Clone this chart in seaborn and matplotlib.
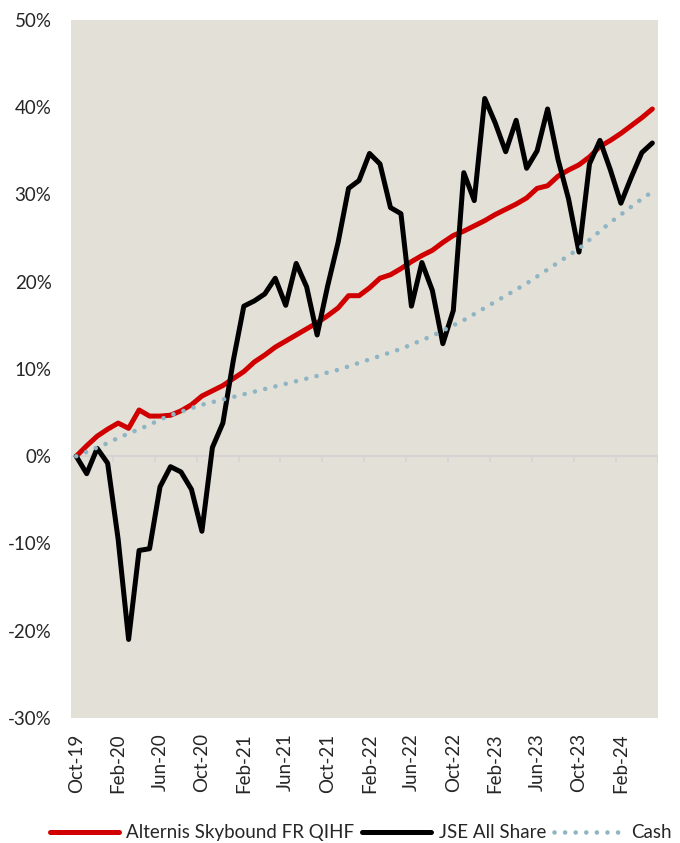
import numpy as np
import pandas as pd
import matplotlib
matplotlib.use('Agg')
import matplotlib.pyplot as plt
import seaborn as sns

# monthly cumulative returns (%), Oct-19 .. May-24
months = pd.date_range('2019-10-01', periods=56, freq='MS').strftime('%b-%y').tolist()

alternis = [0.0, 1.2, 2.3, 3.1, 3.8, 3.2, 5.3, 4.6, 4.6, 4.7,
            5.2, 5.9, 6.9, 7.5, 8.1, 8.9, 9.7, 10.8, 11.6, 12.5,
            13.2, 13.9, 14.6, 15.3, 16.1, 17.0, 18.4, 18.4, 19.3, 20.4,
            20.8, 21.5, 22.3, 23.0, 23.6, 24.5, 25.3, 25.8, 26.4, 27.0,
            27.7, 28.3, 28.9, 29.6, 30.7, 31.0, 32.1, 32.8, 33.4, 34.3,
            35.5, 36.2, 37.0, 37.9, 38.8, 39.8]

jse = [0.0, -2.0, 0.9, -0.8, -9.5, -21.0, -10.8, -10.6, -3.5, -1.2,
       -1.8, -3.8, -8.6, 1.0, 3.8, 11.0, 17.2, 17.8, 18.6, 20.4,
       17.3, 22.1, 19.4, 13.9, 19.5, 24.5, 30.7, 31.6, 34.7, 33.5,
       28.5, 27.8, 17.2, 22.2, 19.0, 12.9, 16.7, 32.5, 29.3, 41.0,
       38.2, 34.9, 38.5, 33.0, 35.0, 39.8, 34.0, 29.5, 23.4, 33.5,
       36.2, 32.8, 29.0, 32.0, 34.8, 35.9]

cash = [0.0, 0.5, 1.0, 1.5, 2.1, 2.6, 3.1, 3.6, 4.2, 4.7,
        5.1, 5.5, 5.9, 6.2, 6.5, 6.8, 7.1, 7.4, 7.7, 8.0,
        8.3, 8.6, 8.9, 9.2, 9.6, 9.9, 10.3, 10.7, 11.1, 11.5,
        11.9, 12.3, 12.8, 13.3, 13.8, 14.4, 15.0, 15.6, 16.3, 17.0,
        17.7, 18.4, 19.1, 19.8, 20.6, 21.4, 22.2, 23.0, 23.8, 24.8,
        25.8, 26.8, 27.7, 28.6, 29.5, 30.3]

yticks = [-30, -20, -10, 0, 10, 20, 30, 40, 50]

sns.set_style('white')
plt.rcParams['font.family'] = ['Lato', 'DejaVu Sans']

fig = plt.figure(figsize=(6.8, 8.43), dpi=100)
ax = fig.add_axes([0.1044, 0.1483, 0.8626, 0.828])
ax.set_facecolor('#E3E0D8')

idx = np.arange(len(months))

# zero axis line with small category tick marks
ax.axhline(0, color='#D4D4D4', lw=1.5, zorder=1)
ax.vlines(np.arange(-0.5, len(months), 4), -0.7, 0, color='#D4D4D4', lw=1.2, zorder=1)

sns.lineplot(x=idx, y=alternis, color='#D10000', lw=3.6, ax=ax,
             label='Alternis Skybound FR QIHF', solid_capstyle='round', solid_joinstyle='round', zorder=3)
sns.lineplot(x=idx, y=jse, color='black', lw=3.6, ax=ax,
             label='JSE All Share', solid_capstyle='round', solid_joinstyle='round', zorder=4)
sns.lineplot(x=idx, y=cash, color='#8FB5C4', lw=3.3, ax=ax, label='Cash',
             linestyle=(0, (0.01, 2.3)), dash_capstyle='round', zorder=5)

ax.set_xlim(-0.5, len(months) - 0.5)
ax.set_ylim(-30, 50)
ax.set_yticks(yticks)
ax.set_yticklabels([f'{v}%' for v in yticks], fontsize=13.5)
ax.set_xticks(idx[::4])
ax.set_xticklabels(months[::4], rotation=90, fontsize=13.5)
ax.tick_params(axis='y', length=0, pad=14)
ax.tick_params(axis='x', length=0, pad=11)
ax.set_xlabel('')
ax.set_ylabel('')
for s in ax.spines.values():
    s.set_visible(False)

ax.get_legend().remove()
h, l = ax.get_legend_handles_labels()
fig.legend(h, l, loc='center', bbox_to_anchor=(0.53, 0.012), ncol=3, frameon=False,
           fontsize=13.5, handlelength=3.7, handletextpad=0.4, columnspacing=0.4)

fig.savefig('out.png', dpi=100, facecolor='white')
